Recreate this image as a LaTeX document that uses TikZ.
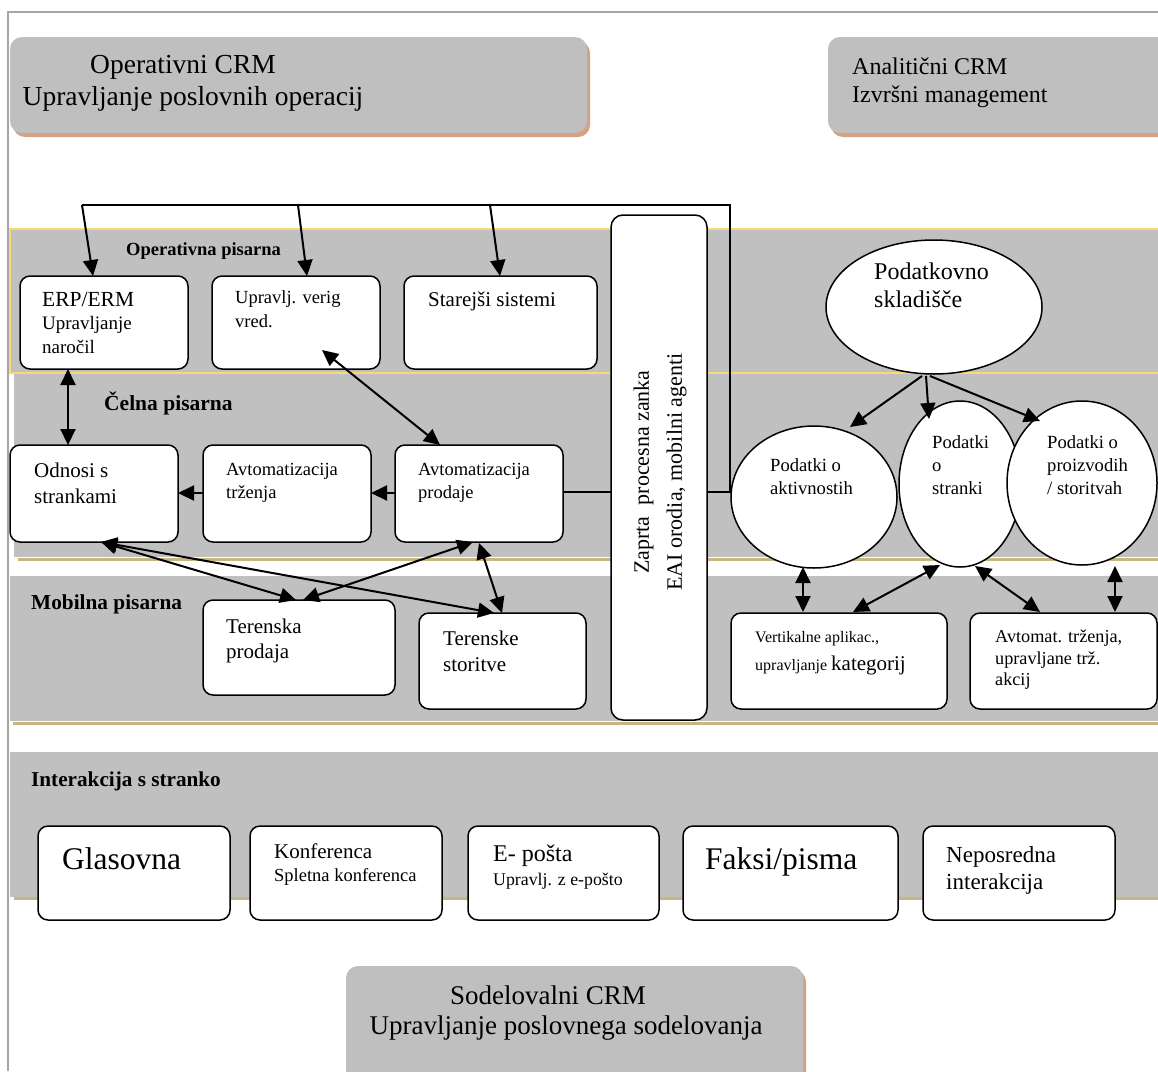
\documentclass[tikz,border=0pt]{standalone}
\usepackage{fontspec}
\setmainfont{Liberation Serif}
\usetikzlibrary{arrows.meta,shapes.geometric}
\definecolor{bandgray}{HTML}{C0C0C0}
\definecolor{hdrgray}{HTML}{BFBFBF}
\definecolor{yellowl}{HTML}{F7D976}
\definecolor{tanl}{HTML}{C5B683}
\definecolor{shadowc}{HTML}{D5A283}
\definecolor{framec}{HTML}{A6A6A6}
\newcommand\fsz[2]{\fontsize{#1}{#2}\selectfont}
\newcommand\rbox[6]{\node[#2, minimum width={(#5-#3)*1pt}, minimum height={(#6-#4)*1pt}] (#1) at ({(#3+#5)/2},{(#4+#6)/2}) {};}
\newcommand\tx[6]{\node[txt, font={\fsz{#4}{#5}}] (#1) at ({#2},{#3+0.3*#4-0.7*#5}) {\strut #6};}
\begin{document}
\begin{tikzpicture}[x=1pt,y=-1pt,
  hdr/.style={fill=hdrgray, rounded corners=12pt, inner sep=0pt, outer sep=0pt},
  shd/.style={fill=shadowc, rounded corners=12pt},
  box/.style={draw=black, line width=1.5pt, fill=white, rounded corners=10pt, inner sep=0pt, outer sep=0pt},
  ell/.style={draw=black, line width=1.5pt, fill=white, ellipse, inner sep=0pt, outer sep=0pt},
  txt/.style={anchor=north west, inner sep=0pt, align=left},
  arr/.style={line width=2pt, -{Triangle[length=16pt,width=15pt]}},
  darr/.style={line width=2pt, {Triangle[length=16pt,width=15pt]}-{Triangle[length=16pt,width=15pt]}},
  thinl/.style={line width=1.4pt}]
\useasboundingbox (0,0) rectangle (1158,1071);
\fill[white] (0,0) rectangle (1158,1071);
% frame
\draw[framec, line width=1.6pt] (8,1071) -- (8,12) -- (1158,12);
% headers
\fill[shd] (13,41) rectangle (590,137);
\rbox{opc}{hdr}{10}{37}{587}{133}
\fill[shd] (831,41) rectangle (1178,137);
\rbox{anc}{hdr}{828}{37}{1175}{133}
\fill[shd] (349,970) rectangle (806,1090);
\rbox{soc}{hdr}{346}{966}{803}{1086}
% bands
\fill[bandgray] (14,373) rectangle (1158,557);
\draw[tanl, line width=3pt] (18,559) -- (1158,559);
\fill[bandgray] (10,229) rectangle (1158,373);
\draw[yellowl, line width=2.5pt] (1162,229) -- (10,229) -- (10,373) -- (1162,373);
\fill[bandgray] (10,576) rectangle (1158,721);
\draw[tanl, line width=3pt] (13,723) -- (1158,723);
\fill[bandgray] (10,752) rectangle (1158,897);
\draw[tanl, line width=3pt] (14,898.5) -- (1158,898.5);
% top loop
\coordinate (lt) at (82,205);
\coordinate (m1) at (298,205);
\coordinate (m2) at (490,205);
\coordinate (rt) at (730,205);
\coordinate (rj) at (730,492);
\draw[thinl] (lt) -- (rt) -- (rj);
% boxes
\rbox{erp}{box}{20}{276}{188}{369}
\rbox{upr}{box}{212}{276}{380}{369}
\rbox{star}{box}{404}{276}{597}{369}
\rbox{odn}{box}{10}{445}{178}{542}
\rbox{avtt}{box}{203}{445}{371}{542}
\rbox{avtp}{box}{395}{445}{563}{542}
\rbox{terp}{box}{203}{600}{395}{695}
\rbox{ters}{box}{419}{613}{586}{709}
\rbox{vert}{box}{731}{613}{947}{709}
\rbox{avtm}{box}{970}{613}{1157}{709}
\rbox{zap}{box, rounded corners=12pt}{611}{215}{707}{720}
\rbox{glas}{box}{38}{826}{230}{920}
\rbox{konf}{box}{250}{826}{442}{920}
\rbox{epos}{box}{468}{826}{659}{920}
\rbox{faks}{box}{683}{826}{898}{920}
\rbox{nepo}{box}{923}{826}{1115}{920}
% ellipses
\node[ell, minimum width=216pt, minimum height=134pt] (skl) at (934,307) {};
\node[ell, minimum width=166pt, minimum height=142pt] (akt) at (814,497) {};
\node[ell, minimum width=122pt, minimum height=166pt] (str) at (960,484) {};
\node[ell, minimum width=150pt, minimum height=164pt] (pro) at (1082,483) {};
% thin connections through the central box
\draw[thinl] (avtp.east |- 0,492) -- (zap.west |- 0,492);
\draw[thinl] (zap.east |- 0,492) -- (rj) -- (akt.west |- 0,492);
% arrows
\draw[arr] (lt) -- (93,276);
\draw[arr] (m1) -- (307,276);
\draw[arr] (m2) -- (500,276);
\draw[darr] (68,369) -- (68,445);
\draw[darr] (322,350) -- (440,445);
\draw[arr] (avtp.west |- 0,493) -- (avtt.east |- 0,493);
\draw[arr] (avtt.west |- 0,493) -- (odn.east |- 0,493);
\draw[arr] (922,376) -- (850,427);
\draw[arr] (926,376) -- (929,419);
\draw[arr] (930,376) -- (1040,421);
\draw[darr] (101,542) -- (296,600);
\draw[darr] (101,542) -- (494,613);
\draw[darr] (473,542) -- (303,600);
\draw[darr] (479,543) -- (502,613);
\draw[darr] (803,567) -- (803,612);
\draw[darr] (940,565) -- (853,612);
\draw[darr] (975,566) -- (1040,612);
\draw[darr] (1115,566) -- (1115,612);
% header texts
\node[anchor=north, align=center, inner sep=0pt, font={\fsz{27.5}{32}}] (t-opc) at (193,51) {\strut Operativni CRM\hspace*{20pt}\\Upravljanje poslovnih operacij};
\tx{t-anc}{852}{67}{24}{28}{Analitični CRM\\Izvršni management}
\node[anchor=north, align=center, inner sep=0pt, font={\fsz{27}{30}}] (t-soc) at (566,983) {\strut Sodelovalni CRM\hspace*{36pt}\\Upravljanje poslovnega sodelovanja};
% band labels
\tx{l-op}{126}{250}{18.5}{22}{\bfseries Operativna pisarna}
\tx{l-ce}{104}{403}{21.5}{25}{\bfseries Čelna pisarna}
\tx{l-mo}{31}{603}{21.3}{25}{\bfseries Mobilna pisarna}
\tx{l-in}{31}{780}{21.2}{25}{\bfseries Interakcija s stranko}
% box texts
\tx{t-erp1}{42}{300}{21.5}{24}{ERP/ERM}
\tx{t-erp2}{42}{324}{19}{24}{Upravljanje\\naročil}
\tx{t-upr}{235}{298}{18.5}{24}{Upravlj. verig\\vred.}
\tx{t-star}{428}{300}{21}{25}{Starejši sistemi}
\tx{t-odn}{34}{471}{21}{26}{Odnosi s\\strankami}
\tx{t-avtt}{226}{470}{18.5}{23}{Avtomatizacija\\trženja}
\tx{t-avtp}{418}{470}{18.5}{23}{Avtomatizacija\\prodaje}
\tx{t-terp}{226}{627}{21}{25}{Terenska\\prodaja}
\tx{t-ters}{443}{639}{21}{26}{Terenske\\storitve}
\tx{t-vert}{755}{637}{16}{28}{Vertikalne aplikac.,\\upravljanje {\fsz{21}{28}kategorij}}
\tx{t-avtm}{995}{637}{18.2}{21.5}{Avtomat. trženja,\\upravljane trž.\\akcij}
\tx{t-skl}{874}{272}{24}{28}{Podatkovno\\skladišče}
\tx{t-akt}{770}{466}{18.6}{23}{Podatki o\\aktivnostih}
\tx{t-str}{932}{443}{18.6}{23}{Podatki\\o\\stranki}
\tx{t-pro}{1047}{443}{18.6}{23}{Podatki o\\proizvodih\\/ storitvah}
\node[rotate=90, align=center, inner sep=0pt, font={\fsz{22}{33}}] (t-zap) at (660,472) {Zaprta\ \ procesna zanka\\EAI orodia, mobilni agenti};
\tx{t-glas}{62}{860}{31.5}{34}{Glasovna}
\tx{t-konf1}{274}{852}{21}{24}{Konferenca}
\tx{t-konf2}{274}{876}{18.5}{24}{Spletna konferenca}
\tx{t-epos1}{493}{854}{24}{26}{E- pošta}
\tx{t-epos2}{493}{880}{17.8}{24}{Upravlj. z e-pošto}
\tx{t-faks}{705}{860}{31.5}{34}{Faksi/pisma}
\tx{t-nepo}{946}{855}{23}{27}{Neposredna\\interakcija}
\end{tikzpicture}
\end{document}
